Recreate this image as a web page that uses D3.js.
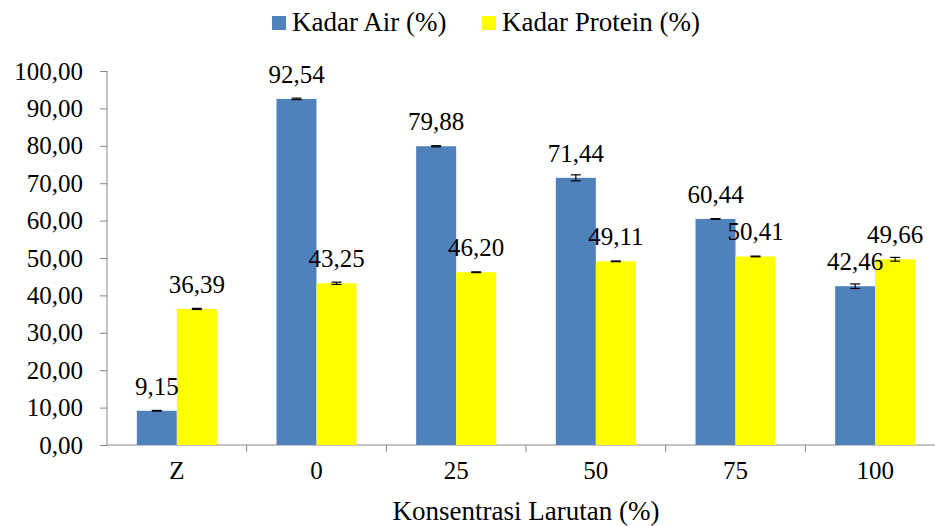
<!DOCTYPE html>
<html lang='en'>
  <head>
    <meta charset='utf-8'>
    <style type='text/css'>
      body { margin: 0; background-color: #fff; }
      svg { display: block; }
    </style>
  </head>
  <body>
    <svg id='chart' width='935' height='526'></svg>

    <script src='https://cdn.jsdelivr.net/npm/d3@7'></script>
    <script type='text/javascript'>
        // chart data
        var categories = ["Z", "0", "25", "50", "75", "100"];
        var seriesNames = ["Kadar Air (%)", "Kadar Protein (%)"];
        var kadarAir = [9.15, 92.54, 79.88, 71.44, 60.44, 42.46];
        var kadarProtein = [36.39, 43.25, 46.20, 49.11, 50.41, 49.66];
        var errAir = [0.1, 0.2, 0.15, 0.8, 0.1, 0.6];
        var errProtein = [0.15, 0.3, 0.1, 0.1, 0.1, 0.5];
        var yTicks = [0, 10, 20, 30, 40, 50, 60, 70, 80, 90, 100];
        var colors = ["#4F81BD", "#FFFF00"];

        var svg = d3.select("#chart");
        var fmt = function(v) { return v.toFixed(2).replace(".", ","); };
        var fs = 25;
        var serif = "'Liberation Serif', 'Times New Roman', serif";

        // plot area (right edge runs past the picture, as in the source)
        var plot = {left: 107, right: 945, top: 71, bottom: 445};

        var x = d3.scaleBand().domain(categories).range([plot.left, plot.right]);
        var y = d3.scaleLinear().domain([0, 100]).range([plot.bottom, plot.top]);
        var barW = 40;

        var data = [];
        categories.forEach(function(c, i) {
            data.push({cat: c, s: 0, v: kadarAir[i], e: errAir[i]});
            data.push({cat: c, s: 1, v: kadarProtein[i], e: errProtein[i]});
        });
        var bx = function(d) { return x(d.cat) + x.bandwidth() / 2 - barW + d.s * barW; };

        // y axis
        var yAxis = svg.append("g")
            .attr("transform", "translate(" + plot.left + ",0)")
            .call(d3.axisLeft(y).tickValues(yTicks).tickSize(7).tickPadding(17).tickFormat(fmt));
        yAxis.attr("font-family", serif).attr("font-size", fs);
        yAxis.selectAll("line, path").attr("stroke", "#868686");
        yAxis.selectAll("text").attr("fill", "#000");
        yAxis.select("path").attr("d", "M0," + plot.top + "V" + plot.bottom);

        // x axis
        var xAxis = svg.append("g")
            .attr("transform", "translate(0," + plot.bottom + ")")
            .call(d3.axisBottom(x).tickSize(0).tickPadding(16));
        xAxis.attr("font-family", serif).attr("font-size", fs);
        xAxis.select("path").attr("stroke", "#868686").attr("d", "M" + plot.left + ",0H" + plot.right);
        xAxis.selectAll("text").attr("fill", "#000");
        xAxis.selectAll(".sep").data(categories.slice(1)).enter().append("line")
            .attr("class", "sep")
            .attr("x1", function(d) { return x(d); }).attr("x2", function(d) { return x(d); })
            .attr("y1", 0).attr("y2", 7).attr("stroke", "#868686");

        // bars
        svg.selectAll(".bar").data(data).enter().append("rect")
            .attr("class", "bar")
            .attr("x", bx)
            .attr("y", function(d) { return y(d.v); })
            .attr("width", barW)
            .attr("height", function(d) { return y(0) - y(d.v); })
            .attr("fill", function(d) { return colors[d.s]; });

        // error bars
        var err = svg.selectAll(".err").data(data).enter().append("g").attr("class", "err")
            .attr("stroke", "#000").attr("stroke-width", 1.2);
        err.append("line")
            .attr("x1", function(d) { return bx(d) + barW / 2; })
            .attr("x2", function(d) { return bx(d) + barW / 2; })
            .attr("y1", function(d) { return y(d.v + d.e); })
            .attr("y2", function(d) { return y(d.v - d.e); });
        [1, -1].forEach(function(sg) {
            err.append("line")
                .attr("x1", function(d) { return bx(d) + barW / 2 - 5; })
                .attr("x2", function(d) { return bx(d) + barW / 2 + 5; })
                .attr("y1", function(d) { return y(d.v + sg * d.e); })
                .attr("y2", function(d) { return y(d.v + sg * d.e); });
        });

        // value labels
        svg.selectAll(".lbl").data(data).enter().append("text")
            .attr("class", "lbl")
            .attr("x", function(d) { return bx(d) + barW / 2; })
            .attr("y", function(d) { return y(d.v) - 16; })
            .attr("text-anchor", "middle")
            .attr("font-family", serif)
            .attr("font-size", fs)
            .text(function(d) { return fmt(d.v); });

        // legend
        var legX = [272, 482];
        var leg = svg.selectAll(".leg").data(seriesNames).enter().append("g")
            .attr("class", "leg")
            .attr("transform", function(d, i) { return "translate(" + legX[i] + ",16)"; });
        leg.append("rect").attr("width", 14).attr("height", 14)
            .attr("fill", function(d, i) { return colors[i]; });
        leg.append("text").attr("x", 20).attr("y", 15)
            .attr("font-family", serif).attr("font-size", 27)
            .text(function(d) { return d; });

        // x axis title
        svg.append("text")
            .attr("x", 526).attr("y", 520)
            .attr("text-anchor", "middle")
            .attr("font-family", serif)
            .attr("font-size", 27)
            .text("Konsentrasi Larutan (%)");
    </script>
  </body>
</html>
